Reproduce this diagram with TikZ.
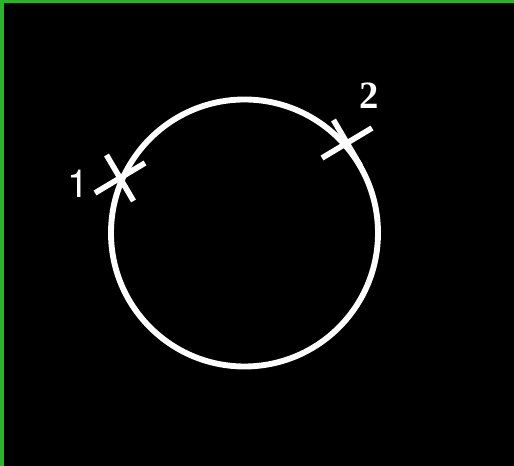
\documentclass[tikz,border=0pt]{standalone}
\usepackage{fontspec}
\setmainfont{Liberation Serif}
\setsansfont{TeX Gyre Heros}
\definecolor{frame}{RGB}{45,178,45}
\tikzset{
  ring/.style={draw=white, line width=4.4pt},
  tick/.style={draw=white, line width=4.2pt},
  marklabel/.style={text=white, inner sep=0pt}
}
\newcommand{\crossmark}[1]{%
  \draw[tick] ($(#1)+(-25,15)$) -- ($(#1)+(25,-15)$);
  \draw[tick] ($(#1)+(-13.5,-23)$) -- ($(#1)+(13.5,23)$);
}
\usetikzlibrary{calc}
\begin{document}
\begin{tikzpicture}[x=0.75pt,y=-0.75pt]
\useasboundingbox (0,0) rectangle (514,466);
\fill[black] (0,0) rectangle (514,466);
\fill[frame] (0,0) rectangle (514,3);
\fill[frame] (0,0) rectangle (4,466);
% circle and marked points
\coordinate (c) at (244.5,233);
\draw[ring] (c) circle[radius=133.5];
\coordinate (p1) at (120,178);
\coordinate (p2) at (347,143);
\crossmark{p1}
\crossmark{p2}
% labels
\node[marklabel, font=\sffamily\fontsize{29}{29}\selectfont] (l1) at (78,183.5) {1};
\node[marklabel, font=\rmfamily\bfseries\fontsize{29}{29}\selectfont] (l2) at (369,96) {2};
\end{tikzpicture}
\end{document}
